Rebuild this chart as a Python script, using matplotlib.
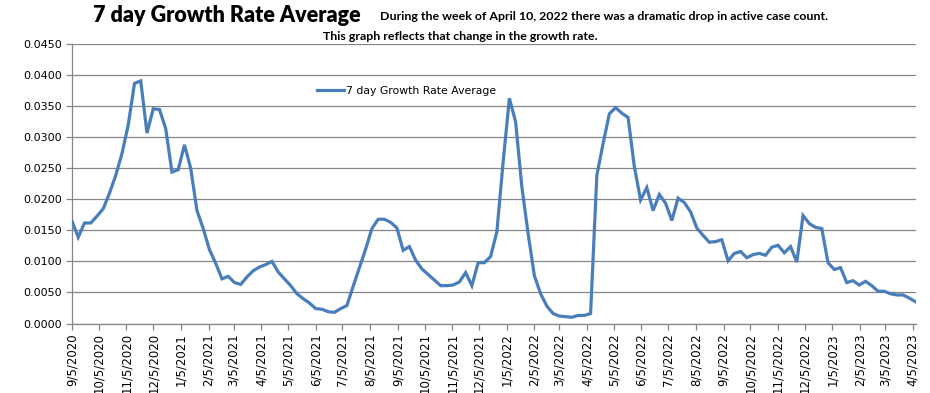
import matplotlib
matplotlib.use("Agg")
import matplotlib.pyplot as plt
import matplotlib.dates as mdates
from matplotlib.ticker import FuncFormatter, MultipleLocator
import pandas as pd

# ---- data ----
start_date = "2020-09-05"
week_step = "7D"
growth_rate = [
    0.0165, 0.0139, 0.0162, 0.0162, 0.0173, 0.0185, 0.0210, 0.0239, 0.0274, 0.0320,
    0.0387, 0.0391, 0.0307, 0.0346, 0.0345, 0.0314, 0.0244, 0.0248, 0.0288, 0.0250,
    0.0182, 0.0153, 0.0119, 0.0097, 0.0072, 0.0076, 0.0066, 0.0063, 0.0075, 0.0085,
    0.0091, 0.0095, 0.0100, 0.0083, 0.0072, 0.0061, 0.0048, 0.0040, 0.0033, 0.0024,
    0.0023, 0.0019, 0.0018, 0.0024, 0.0029, 0.0060, 0.0090, 0.0120, 0.0153, 0.0168,
    0.0168, 0.0163, 0.0154, 0.0118, 0.0124, 0.0102, 0.0088, 0.0079, 0.0070, 0.0061,
    0.0061, 0.0062, 0.0067, 0.0082, 0.0061, 0.0098, 0.0098, 0.0108, 0.0148, 0.0260,
    0.0363, 0.0325, 0.0220, 0.0145, 0.0077, 0.0048, 0.0028, 0.0016, 0.0012, 0.0011,
    0.0010, 0.0013, 0.0013, 0.0016, 0.0239, 0.0290, 0.0338, 0.0348, 0.0339, 0.0332,
    0.0253, 0.0199, 0.0219, 0.0182, 0.0208, 0.0194, 0.0166, 0.0202, 0.0195, 0.0180,
    0.0154, 0.0142, 0.0131, 0.0132, 0.0135, 0.0101, 0.0113, 0.0116, 0.0106, 0.0111,
    0.0113, 0.0110, 0.0123, 0.0126, 0.0114, 0.0124, 0.0099, 0.0174, 0.0161, 0.0155,
    0.0153, 0.0098, 0.0087, 0.0090, 0.0066, 0.0069, 0.0062, 0.0068, 0.0061, 0.0052,
    0.0052, 0.0048, 0.0046, 0.0046, 0.0041, 0.0035,
]
series_name = "7 day Growth Rate Average"
title_text = "7 day Growth Rate Average"
note_line1 = "During the week of April 10, 2022 there was a dramatic drop in active case count."
note_line2 = "This graph reflects that change in the growth rate."
y_max = 0.045
y_step = 0.005

dates = pd.date_range(start=start_date, periods=len(growth_rate), freq=week_step)

# ---- figure ----
W, H = 930, 393
fig = plt.figure(figsize=(W / 100, H / 100), dpi=100)
ax = fig.add_axes([72 / W, 1 - 323.5 / H, (915.5 - 72) / W, (323.5 - 44.3) / H])

blue = "#4A7EBB"
grid_c = "#868686"

line, = ax.plot(dates, growth_rate, color=blue, lw=2.3, solid_joinstyle="miter",
                label=series_name, zorder=3)

ax.set_ylim(0, y_max)
ax.yaxis.set_major_locator(MultipleLocator(y_step))
ax.yaxis.set_major_formatter(FuncFormatter(lambda v, p: f"{v:.4f}"))
ax.set_xlim(dates[0], dates[-1])
ax.xaxis.set_major_locator(mdates.MonthLocator(bymonthday=5))
ax.xaxis.set_major_formatter(FuncFormatter(
    lambda v, p: (lambda d: f"{d.month}/{d.day}/{d.year}")(mdates.num2date(v))))

ax.grid(axis="y", color=grid_c, lw=0.9, zorder=1)
for s in ["top", "right"]:
    ax.spines[s].set_visible(False)
for s in ["left", "bottom"]:
    ax.spines[s].set_color(grid_c)
    ax.spines[s].set_linewidth(0.9)

ax.tick_params(axis="y", direction="out", length=4, width=0.9, color=grid_c,
               labelsize=8, pad=3, labelcolor="black")
ax.tick_params(axis="x", direction="out", length=4, width=0.9, color=grid_c,
               labelsize=8.5, pad=3, labelrotation=90, labelcolor="black")

leg = fig.legend(handles=[line], loc="center left",
                 bbox_to_anchor=(317 / W, 1 - 91 / H), frameon=False,
                 fontsize=7.8, handlelength=2.5, handletextpad=0.15,
                 borderpad=0, borderaxespad=0)

fig.text(93 / W, 1 - 16 / H, title_text, fontsize=15.5, fontweight="heavy",
         family=["Lato", "DejaVu Sans"], va="center", ha="left")
fig.text(380 / W, 1 - 17 / H, note_line1, fontsize=8.9, fontweight="bold",
         family=["Lato", "DejaVu Sans"], va="center", ha="left")
fig.text(460 / W, 1 - 36 / H, note_line2, fontsize=8.9, fontweight="bold",
         family=["Lato", "DejaVu Sans"], va="center", ha="center")

fig.savefig("out.png", dpi=100)
